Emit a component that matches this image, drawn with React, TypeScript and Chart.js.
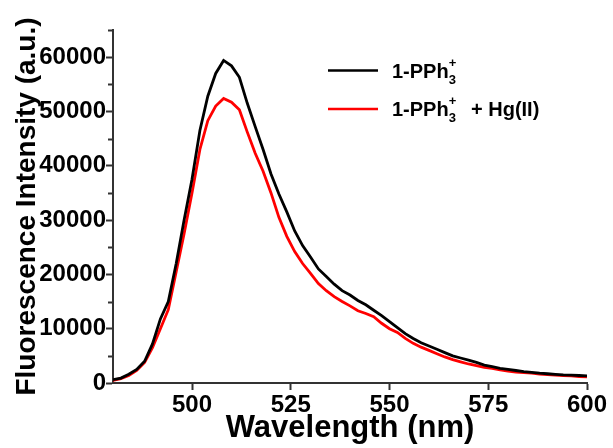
import React, { useEffect, useRef } from "react";
import { Chart, registerables } from "chart.js";

Chart.register(...registerables);

const wavelengths = [
  480, 482, 484, 486, 488, 490, 492, 494, 496, 498,
  500, 502, 504, 506, 508, 510, 512, 514, 516, 518,
  520, 522, 524, 526, 528, 530, 532, 534, 536, 538,
  540, 542, 544, 546, 548, 550, 552, 554, 556, 558,
  560, 562, 564, 566, 568, 570, 572, 574, 576, 578,
  580, 582, 584, 586, 588, 590, 592, 594, 596, 598, 600,
];

const freeProbe = [
  600, 900, 1600, 2500, 4000, 7200, 11800, 15000, 22000, 30000,
  37500, 46500, 52800, 57000, 59400, 58400, 56300, 51500, 47200, 43000,
  38500, 34800, 31500, 28000, 25300, 23200, 21000, 19600, 18200, 17000,
  16200, 15200, 14400, 13400, 12400, 11300, 10200, 9100, 8200, 7400,
  6800, 6200, 5600, 5000, 4600, 4200, 3800, 3300, 3000, 2700,
  2500, 2300, 2100, 1950, 1800, 1700, 1600, 1500, 1450, 1380, 1300,
];

const withHg = [
  500, 800, 1400, 2300, 3800, 6500, 10000, 13500, 20500, 27500,
  35000, 43000, 48300, 51000, 52400, 51700, 50300, 46200, 42300, 39000,
  35000, 30500, 27000, 24200, 22000, 20200, 18300, 17000, 15900, 15000,
  14200, 13300, 12800, 12200, 11000, 10000, 9300, 8200, 7300, 6600,
  6000, 5400, 4800, 4300, 3900, 3500, 3200, 2900, 2700, 2400,
  2200, 2000, 1900, 1800, 1650, 1550, 1450, 1350, 1300, 1200, 1150,
];

const xMajorTicks = [500, 525, 550, 575, 600];
const yMajorTicks = [0, 10000, 20000, 30000, 40000, 50000, 60000];
const yMinorTicks = [5000, 15000, 25000, 35000, 45000, 55000, 65000];

const FONT = '"Liberation Sans", Arial, Helvetica, sans-serif';
const AXIS_COLOR = "#333333";

const minorTicksPlugin = {
  id: "minorTicks",
  afterDraw(chart: any) {
    const ctx = chart.ctx;
    const y = chart.scales.y;
    const left = chart.chartArea.left;
    ctx.save();
    ctx.strokeStyle = AXIS_COLOR;
    ctx.lineWidth = 2;
    yMinorTicks.forEach((v) => {
      const py = Math.round(y.getPixelForValue(v)) + 0.5;
      ctx.beginPath();
      ctx.moveTo(left - 5, py);
      ctx.lineTo(left, py);
      ctx.stroke();
    });
    ctx.restore();
  },
};

const legendPlugin = {
  id: "customLegend",
  afterDraw(chart: any) {
    const ctx = chart.ctx;
    const entries = [
      { color: "#000000", y: 70.5, extra: "" },
      { color: "#ff0000", y: 109, extra: "+ Hg(II)" },
    ];
    ctx.save();
    entries.forEach((e) => {
      ctx.strokeStyle = e.color;
      ctx.lineWidth = 2.5;
      ctx.beginPath();
      ctx.moveTo(328, e.y);
      ctx.lineTo(378, e.y);
      ctx.stroke();

      const base = e.y + 7;
      ctx.fillStyle = "#000000";
      ctx.textBaseline = "alphabetic";
      ctx.textAlign = "left";
      ctx.font = `bold 20px ${FONT}`;
      const main = "1-PPh";
      ctx.fillText(main, 392, base);
      const w = ctx.measureText(main).width;
      ctx.font = `bold 13px ${FONT}`;
      ctx.fillText("3", 392 + w, base + 6);
      ctx.fillText("+", 392 + w, base - 11);
      if (e.extra) {
        ctx.font = `bold 20px ${FONT}`;
        ctx.fillText(e.extra, 471, base);
      }
    });
    ctx.restore();
  },
};

export default function App() {
  const ref = useRef<HTMLCanvasElement | null>(null);

  useEffect(() => {
    if (!ref.current) return;
    const chart = new Chart(ref.current, {
      type: "line",
      data: {
        datasets: [
          {
            label: "1-PPh3+",
            data: wavelengths.map((x, i) => ({ x, y: freeProbe[i] })),
            borderColor: "#000000",
            borderWidth: 2.8,
            pointRadius: 0,
            tension: 0,
            fill: false,
          },
          {
            label: "1-PPh3+ + Hg(II)",
            data: wavelengths.map((x, i) => ({ x, y: withHg[i] })),
            borderColor: "#ff0000",
            borderWidth: 2.8,
            pointRadius: 0,
            tension: 0,
            fill: false,
          },
        ],
      },
      options: {
        responsive: false,
        animation: false,
        events: [],
        layout: { padding: { top: 30, right: 26, left: 0, bottom: 0 } },
        plugins: {
          legend: { display: false },
          tooltip: { enabled: false },
          title: { display: false },
        },
        scales: {
          x: {
            type: "linear",
            min: 480,
            max: 600,
            afterBuildTicks: (scale: any) => {
              scale.ticks = xMajorTicks.map((v) => ({ value: v }));
            },
            afterFit: (scale: any) => {
              scale.height = 65;
            },
            border: { display: true, color: AXIS_COLOR, width: 2 },
            grid: {
              display: true,
              drawOnChartArea: false,
              drawTicks: true,
              tickLength: 7,
              tickWidth: 2,
              tickColor: AXIS_COLOR,
            },
            ticks: {
              color: "#000000",
              padding: 1,
              maxRotation: 0,
              autoSkip: false,
              font: { family: FONT, size: 24, weight: "bold" },
              callback: (v: any) => String(v),
            },
            title: {
              display: true,
              text: "Wavelength (nm)",
              color: "#000000",
              padding: { top: 0, bottom: 1 },
              font: { family: FONT, size: 31, weight: "bold" },
            },
          },
          y: {
            type: "linear",
            min: 0,
            max: 65000,
            afterBuildTicks: (scale: any) => {
              scale.ticks = yMajorTicks.map((v) => ({ value: v }));
            },
            afterFit: (scale: any) => {
              scale.width = 113;
            },
            border: { display: true, color: AXIS_COLOR, width: 2 },
            grid: {
              display: true,
              drawOnChartArea: false,
              drawTicks: true,
              tickLength: 7,
              tickWidth: 2,
              tickColor: AXIS_COLOR,
            },
            ticks: {
              color: "#000000",
              padding: 0,
              autoSkip: false,
              font: { family: FONT, size: 24, weight: "bold" },
              callback: (v: any) => String(v),
            },
            title: {
              display: true,
              text: "Fluorescence Intensity (a.u.)",
              color: "#000000",
              padding: { top: 10, bottom: 0 },
              font: { family: FONT, size: 28, weight: "bold" },
            },
          },
        },
      },
      plugins: [minorTicksPlugin, legendPlugin],
    } as any);
    return () => chart.destroy();
  }, []);

  return (
    <div style={{ position: "fixed", left: 0, top: 0, width: 613, height: 448, background: "#ffffff" }}>
      <canvas ref={ref} width={613} height={448} />
    </div>
  );
}
